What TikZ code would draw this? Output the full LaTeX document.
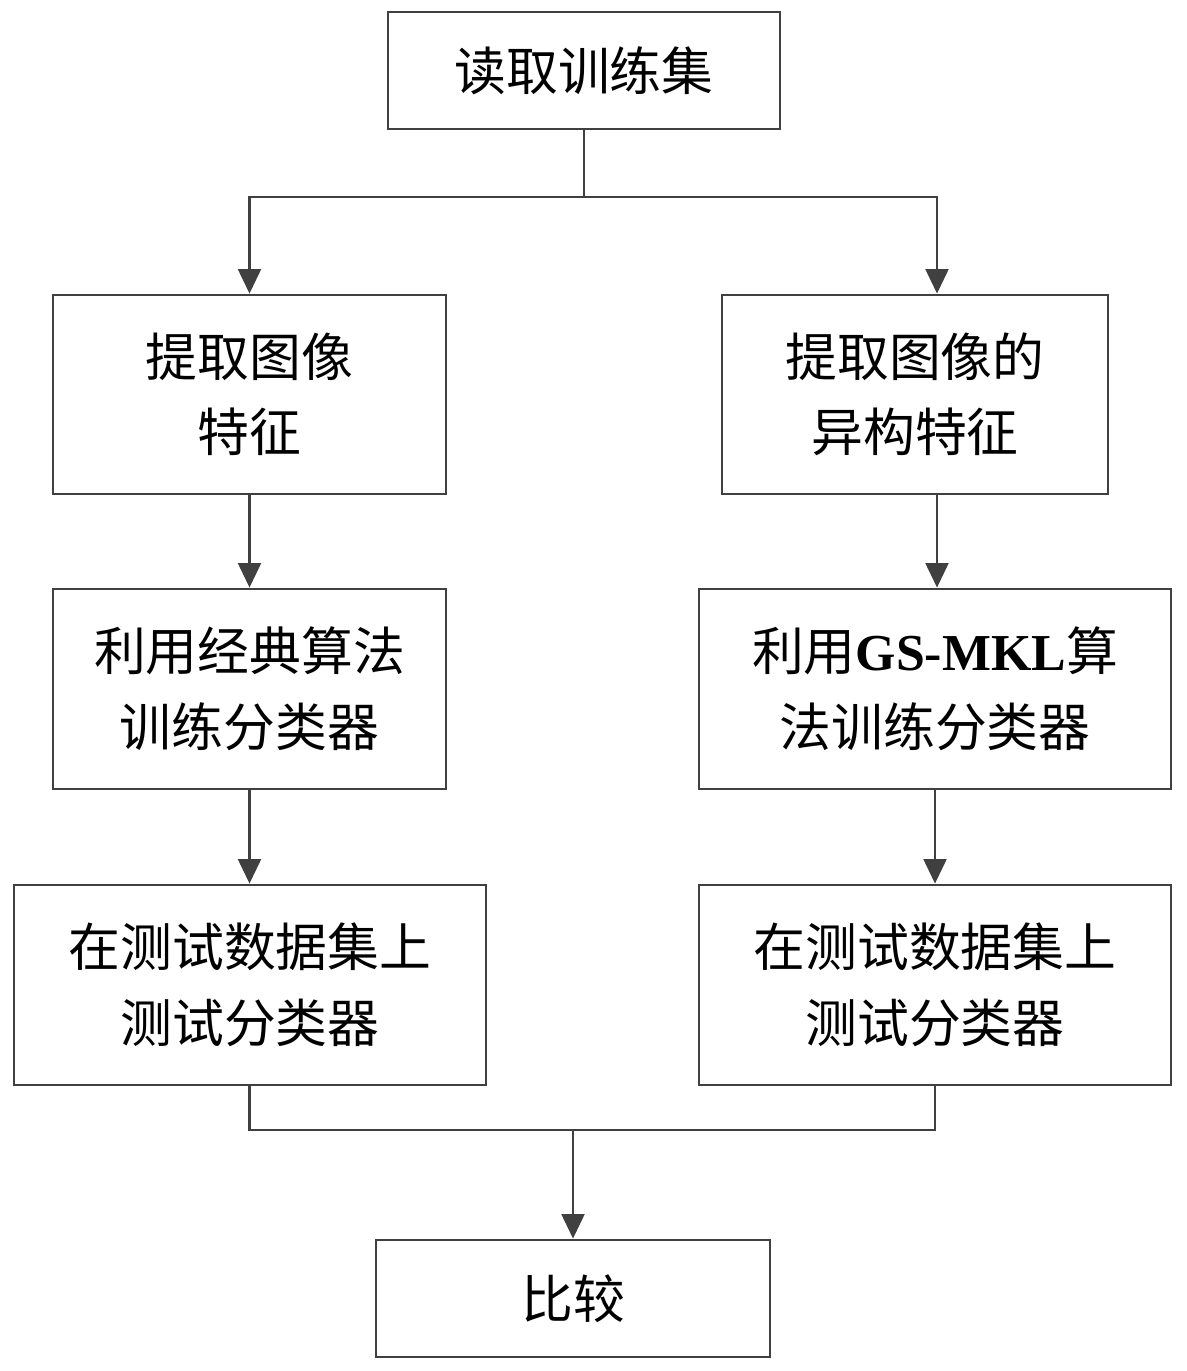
\documentclass[tikz,border=0pt]{standalone}
\usepackage{fontspec}
\setmainfont{Noto Sans CJK SC}
\newfontfamily\latinfont{Liberation Serif}
\usetikzlibrary{arrows.meta}
\definecolor{linegray}{HTML}{404040}
\tikzset{
  box/.style={rectangle, draw=linegray, line width=1.6pt, align=center, font=\fontsize{29.5}{43}\selectfont, text=black},
  arrow/.style={draw=linegray, line width=1.6pt, -{Triangle[length=14pt,width=13pt]}},
  line/.style={draw=linegray, line width=1.6pt}
}
\begin{document}
\begin{tikzpicture}[x=0.02cm, y=-0.02cm]
\useasboundingbox (0,0) rectangle (1186,1371);
\node (read) [box, minimum width=7.84cm, minimum height=2.34cm] at (584,70.5) {读取训练集};
\node (featL) [box, minimum width=7.86cm, minimum height=3.98cm] at (249.5,394.5) {提取图像\\特征};
\node (featR) [box, minimum width=7.72cm, minimum height=3.98cm] at (915,394.5) {提取图像的\\异构特征};
\node (trainL) [box, minimum width=7.86cm, minimum height=4cm] at (249.5,689) {利用经典算法\\训练分类器};
\node (trainR) [box, minimum width=9.44cm, minimum height=4cm] at (935,689) {利用{\latinfont\bfseries GS-MKL}算\\法训练分类器};
\node (testL) [box, minimum width=9.44cm, minimum height=4cm] at (250,985) {在测试数据集上\\测试分类器};
\node (testR) [box, minimum width=9.44cm, minimum height=4cm] at (935,985) {在测试数据集上\\测试分类器};
\node (cmp) [box, minimum width=7.88cm, minimum height=2.34cm] at (573,1298.5) {比较};
\coordinate (split) at (584,197);
\coordinate (join) at (573,1130);

\draw [line] (read) -- (split);
\draw [arrow] (split) -| (featL.north);
\draw [arrow] (split) -| ([xshift=0.44cm]featR.north);
\draw [arrow] (featL) -- (trainL);
\draw [arrow] ([xshift=0.44cm]featR.south) -- ([xshift=0.44cm]featR.south |- trainR.north);
\draw [arrow] (trainL) -- (trainL |- testL.north);
\draw [arrow] (trainR) -- (testR);
\draw [line] (testL.south -| trainL) |- (join);
\draw [line] (testR.south) |- (join);
\draw [arrow] (join) -- (join |- cmp.north);
\end{tikzpicture}
\end{document}
